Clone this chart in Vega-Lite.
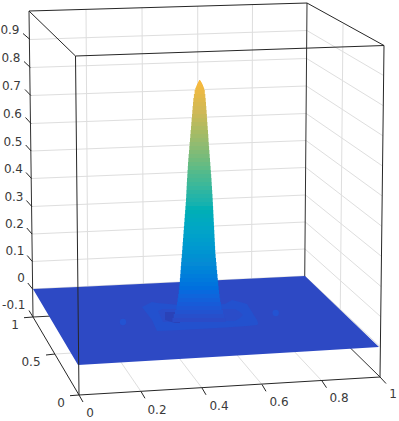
{"$schema":"https://vega.github.io/schema/vega-lite/v6.json","width":399,"height":421,"padding":0,"autosize":{"type":"fit","contains":"padding"},"background":"white","config":{"view":{"stroke":null}},
"datasets":{
"grid":[
{"id":"bz9","px":30,"py":39.5},{"id":"bz9","px":306.9,"py":30.5},
{"id":"bz8","px":30.4,"py":67.5},{"id":"bz8","px":306.7,"py":58.5},
{"id":"bz7","px":30.8,"py":95.5},{"id":"bz7","px":306.4,"py":86},
{"id":"bz6","px":31,"py":123.5},{"id":"bz6","px":306.2,"py":113.5},
{"id":"bz5","px":31.2,"py":151},{"id":"bz5","px":306,"py":140.5},
{"id":"bz4","px":31.5,"py":178.5},{"id":"bz4","px":305.8,"py":167.5},
{"id":"bz3","px":31.8,"py":206.5},{"id":"bz3","px":305.5,"py":195},
{"id":"bz2","px":32,"py":234},{"id":"bz2","px":305.3,"py":222},
{"id":"bz1","px":32.3,"py":261.5},{"id":"bz1","px":305,"py":249},
{"id":"bz0","px":32.6,"py":289},{"id":"bz0","px":304.8,"py":276},
{"id":"rz9","px":306.9,"py":30.5},{"id":"rz9","px":383.6,"py":75.5},
{"id":"rz8","px":306.7,"py":58.5},{"id":"rz8","px":383.3,"py":105.7},
{"id":"rz7","px":306.4,"py":86},{"id":"rz7","px":382.9,"py":135.8},
{"id":"rz6","px":306.2,"py":113.5},{"id":"rz6","px":382.5,"py":166},
{"id":"rz5","px":306,"py":140.5},{"id":"rz5","px":382.2,"py":196},
{"id":"rz4","px":305.8,"py":167.5},{"id":"rz4","px":381.8,"py":226.3},
{"id":"rz3","px":305.5,"py":195},{"id":"rz3","px":381.5,"py":256.4},
{"id":"rz2","px":305.3,"py":222},{"id":"rz2","px":381.1,"py":286.6},
{"id":"rz1","px":305,"py":249},{"id":"rz1","px":380.7,"py":316.7},
{"id":"rz0","px":304.8,"py":276},{"id":"rz0","px":380.4,"py":346.9},
{"id":"bx2","px":86,"py":9},{"id":"bx2","px":88,"py":314},
{"id":"bx4","px":142,"py":7.5},{"id":"bx4","px":143.5,"py":311.5},
{"id":"bx6","px":197.7,"py":6},{"id":"bx6","px":198,"py":309},
{"id":"bx8","px":252.5,"py":4.5},{"id":"bx8","px":251.5,"py":306},
{"id":"ry5","px":343,"py":24},{"id":"ry5","px":340,"py":338},
{"id":"fx2","px":88,"py":314},{"id":"fx2","px":141,"py":391.5},
{"id":"fx4","px":143.5,"py":311.5},{"id":"fx4","px":202,"py":388},
{"id":"fx6","px":198,"py":309},{"id":"fx6","px":262,"py":384.5},
{"id":"fx8","px":251.5,"py":306},{"id":"fx8","px":322,"py":381},
{"id":"fy5","px":55,"py":354},{"id":"fy5","px":340,"py":338}
],
"backbox":[
{"id":"bl","px":29,"py":11},{"id":"bl","px":33,"py":317},
{"id":"bb","px":33,"py":317},{"id":"bb","px":304.5,"py":303},
{"id":"br","px":307,"py":3},{"id":"br","px":304.5,"py":303},
{"id":"fl","px":304.5,"py":303},{"id":"fl","px":380,"py":377}
],
"frontbox":[
{"id":"t1","px":29,"py":11},{"id":"t1","px":307,"py":3},
{"id":"t2","px":75.5,"py":56},{"id":"t2","px":384,"py":45.5},
{"id":"t3","px":29,"py":11},{"id":"t3","px":75.5,"py":56},
{"id":"t4","px":307,"py":3},{"id":"t4","px":384,"py":45.5},
{"id":"v1","px":75.5,"py":56},{"id":"v1","px":79,"py":395},
{"id":"v2","px":384,"py":45.5},{"id":"v2","px":380,"py":377},
{"id":"b1","px":33,"py":317},{"id":"b1","px":79,"py":395},
{"id":"b2","px":79,"py":395},{"id":"b2","px":380,"py":377},
{"id":"tx0","px":79,"py":395},{"id":"tx0","px":83,"py":402},
{"id":"tx2","px":141,"py":391.5},{"id":"tx2","px":145,"py":398.3},
{"id":"tx4","px":202,"py":388},{"id":"tx4","px":206,"py":394.8},
{"id":"tx6","px":262,"py":384.5},{"id":"tx6","px":266,"py":391.3},
{"id":"tx8","px":322,"py":381},{"id":"tx8","px":326.5,"py":387.7},
{"id":"tx10","px":380,"py":377},{"id":"tx10","px":386,"py":383.5},
{"id":"ty0","px":70,"py":395.7},{"id":"ty0","px":79,"py":395},
{"id":"ty5","px":46,"py":355},{"id":"ty5","px":55,"py":354},
{"id":"ty10","px":24,"py":317.7},{"id":"ty10","px":33,"py":317},
{"id":"tz9","px":23,"py":33.5},{"id":"tz9","px":30,"py":39.5},
{"id":"tz8","px":24,"py":61.5},{"id":"tz8","px":30.4,"py":67.5},
{"id":"tz7","px":25,"py":89.5},{"id":"tz7","px":30.8,"py":95.5},
{"id":"tz6","px":25.5,"py":117.5},{"id":"tz6","px":31,"py":123.5},
{"id":"tz5","px":25.7,"py":145},{"id":"tz5","px":31.2,"py":151},
{"id":"tz4","px":26,"py":172.5},{"id":"tz4","px":31.5,"py":178.5},
{"id":"tz3","px":26.4,"py":200.5},{"id":"tz3","px":31.8,"py":206.5},
{"id":"tz2","px":26.8,"py":228},{"id":"tz2","px":32,"py":234},
{"id":"tz1","px":27.2,"py":255.5},{"id":"tz1","px":32.3,"py":261.5},
{"id":"tz0","px":27.8,"py":283},{"id":"tz0","px":32.6,"py":289},
{"id":"tzm","px":29,"py":310.5},{"id":"tzm","px":33,"py":317}
],
"sheet":[{"px":33,"top":289,"bot":289},{"px":78,"top":286.9,"bot":365},{"px":305,"top":276,"bot":351.4},{"px":379,"top":347,"bot":347}],
"ring":[{"px":142,"top":307,"bot":307},{"px":152,"top":302,"bot":320},{"px":157,"top":303,"bot":331},{"px":180,"top":305,"bot":330},{"px":225,"top":304,"bot":327.5},{"px":232,"top":300,"bot":327},{"px":240,"top":302,"bot":326.5},{"px":247,"top":304,"bot":326},{"px":257,"top":320,"bot":325},{"px":258,"top":323,"bot":324}],
"ringin":[{"px":158,"top":311,"bot":311},{"px":163,"top":309,"bot":322},{"px":235,"top":309,"bot":321},{"px":240,"top":312,"bot":318},{"px":243,"top":315,"bot":315}],
"dark":[{"px":165,"top":312,"bot":320},{"px":175,"top":312,"bot":323},{"px":180,"top":312,"bot":323}],
"spots":[{"px":123,"py":322},{"px":275.7,"py":313}],
"peak":[
{"y0":80,"y1":81,"l":199,"r":200.3,"z":0.811},{"y0":81,"y1":82,"l":198.5,"r":201,"z":0.807},{"y0":82,"y1":83,"l":198,"r":201.6,"z":0.804},{"y0":83,"y1":84,"l":197.5,"r":202.1,"z":0.801},{"y0":84,"y1":85,"l":197,"r":202.6,"z":0.797},{"y0":85,"y1":86,"l":196.6,"r":203,"z":0.794},{"y0":86,"y1":87,"l":196.2,"r":203.4,"z":0.791},{"y0":87,"y1":88,"l":195.8,"r":203.8,"z":0.787},{"y0":88,"y1":90,"l":195.3,"r":204.2,"z":0.782},
{"y0":90,"y1":94,"l":194.6,"r":204.8,"z":0.772},{"y0":94,"y1":98,"l":193.9,"r":205.3,"z":0.758},{"y0":98,"y1":102,"l":193.3,"r":205.7,"z":0.745},{"y0":102,"y1":106,"l":193,"r":206,"z":0.732},{"y0":106,"y1":110,"l":192.6,"r":206.3,"z":0.718},{"y0":110,"y1":114,"l":192.3,"r":206.6,"z":0.705},{"y0":114,"y1":118,"l":192,"r":206.9,"z":0.691},{"y0":118,"y1":122,"l":191.6,"r":207.1,"z":0.678},{"y0":122,"y1":126,"l":191.3,"r":207.4,"z":0.664},{"y0":126,"y1":130,"l":191,"r":207.7,"z":0.651},{"y0":130,"y1":134,"l":190.6,"r":208,"z":0.638},{"y0":134,"y1":138,"l":190.3,"r":208.3,"z":0.624},{"y0":138,"y1":142,"l":190,"r":208.5,"z":0.611},{"y0":142,"y1":146,"l":189.6,"r":208.8,"z":0.597},{"y0":146,"y1":150,"l":189.3,"r":209.1,"z":0.584},{"y0":150,"y1":154,"l":189,"r":209.4,"z":0.57},{"y0":154,"y1":158,"l":188.6,"r":209.7,"z":0.557},{"y0":158,"y1":162,"l":188.3,"r":210,"z":0.544},{"y0":162,"y1":166,"l":188,"r":210.3,"z":0.53},{"y0":166,"y1":170,"l":187.8,"r":210.6,"z":0.517},{"y0":170,"y1":174,"l":187.5,"r":210.9,"z":0.503},{"y0":174,"y1":178,"l":187.3,"r":211.2,"z":0.49},{"y0":178,"y1":182,"l":187,"r":211.5,"z":0.477},{"y0":182,"y1":186,"l":186.8,"r":211.7,"z":0.463},{"y0":186,"y1":190,"l":186.6,"r":212,"z":0.45},{"y0":190,"y1":194,"l":186.4,"r":212.2,"z":0.436},{"y0":194,"y1":198,"l":186.2,"r":212.5,"z":0.423},{"y0":198,"y1":202,"l":186,"r":212.7,"z":0.409},{"y0":202,"y1":206,"l":185.7,"r":212.9,"z":0.396},{"y0":206,"y1":210,"l":185.4,"r":213.1,"z":0.383},{"y0":210,"y1":214,"l":185.1,"r":213.3,"z":0.369},{"y0":214,"y1":218,"l":184.8,"r":213.5,"z":0.356},{"y0":218,"y1":222,"l":184.5,"r":213.7,"z":0.342},{"y0":222,"y1":226,"l":184.2,"r":213.9,"z":0.329},{"y0":226,"y1":230,"l":183.9,"r":214.1,"z":0.315},{"y0":230,"y1":234,"l":183.6,"r":214.3,"z":0.302},{"y0":234,"y1":238,"l":183.3,"r":214.5,"z":0.289},{"y0":238,"y1":242,"l":183,"r":214.7,"z":0.275},{"y0":242,"y1":246,"l":182.7,"r":214.9,"z":0.262},{"y0":246,"y1":250,"l":182.4,"r":215.1,"z":0.248},{"y0":250,"y1":254,"l":182.1,"r":215.3,"z":0.235},{"y0":254,"y1":258,"l":181.8,"r":215.6,"z":0.221},{"y0":258,"y1":262,"l":181.4,"r":216,"z":0.208},{"y0":262,"y1":266,"l":181.1,"r":216.4,"z":0.195},{"y0":266,"y1":270,"l":180.8,"r":216.7,"z":0.181},{"y0":270,"y1":274,"l":180.5,"r":217.1,"z":0.168},{"y0":274,"y1":278,"l":180.2,"r":217.5,"z":0.154},{"y0":278,"y1":282,"l":179.9,"r":217.8,"z":0.141},{"y0":282,"y1":286,"l":179.6,"r":218.2,"z":0.128},{"y0":286,"y1":290,"l":179.3,"r":218.6,"z":0.114},{"y0":290,"y1":294,"l":178.8,"r":219,"z":0.101},{"y0":294,"y1":298,"l":178.2,"r":219.6,"z":0.087},{"y0":298,"y1":302,"l":177.6,"r":220.2,"z":0.074},{"y0":302,"y1":306,"l":177,"r":220.9,"z":0.06},{"y0":306,"y1":310,"l":176.3,"r":221.6,"z":0.047},{"y0":310,"y1":314,"l":175,"r":223,"z":0.034},{"y0":314,"y1":318,"l":173.7,"r":224.3,"z":0.02},{"y0":318,"y1":322,"l":172.4,"r":225.6,"z":0.007}
],
"zlabels":[{"t":"0.9","px":19.5,"py":30},{"t":"0.8","px":20.5,"py":58},{"t":"0.7","px":21,"py":86},{"t":"0.6","px":22,"py":114},{"t":"0.5","px":22.5,"py":142},{"t":"0.4","px":23,"py":169},{"t":"0.3","px":23.5,"py":197},{"t":"0.2","px":24,"py":224},{"t":"0.1","px":24.5,"py":251},{"t":"0","px":25,"py":278},{"t":"-0.1","px":25.5,"py":305}],
"otherlabels":[{"t":"1","px":15,"py":325},{"t":"0.5","px":31,"py":362},{"t":"0","px":61,"py":403},{"t":"0","px":90,"py":413},{"t":"0.2","px":157,"py":410},{"t":"0.4","px":219,"py":406},{"t":"0.6","px":279,"py":402},{"t":"0.8","px":339,"py":398},{"t":"1","px":393,"py":394}]
},
"layer":[
{"data":{"name":"grid"},"mark":{"type":"line","color":"#dedede","strokeWidth":1},"encoding":{"x":{"field":"px","type":"quantitative","scale":{"domain":[0,399],"nice":false,"zero":false},"axis":null},"y":{"field":"py","type":"quantitative","scale":{"domain":[421,0],"nice":false,"zero":false},"axis":null},"detail":{"field":"id"}}},
{"data":{"name":"backbox"},"mark":{"type":"line","color":"#303030","strokeWidth":1},"encoding":{"x":{"field":"px","type":"quantitative"},"y":{"field":"py","type":"quantitative"},"detail":{"field":"id"}}},
{"data":{"name":"sheet"},"mark":{"type":"area","color":"#2D49C4","opacity":1},"encoding":{"x":{"field":"px","type":"quantitative"},"y":{"field":"top","type":"quantitative"},"y2":{"field":"bot"}}},
{"data":{"name":"ring"},"mark":{"type":"area","color":"#2351CE"},"encoding":{"x":{"field":"px","type":"quantitative"},"y":{"field":"top","type":"quantitative"},"y2":{"field":"bot"}}},
{"data":{"name":"ringin"},"mark":{"type":"area","color":"#2A4CC8"},"encoding":{"x":{"field":"px","type":"quantitative"},"y":{"field":"top","type":"quantitative"},"y2":{"field":"bot"}}},
{"data":{"name":"dark"},"mark":{"type":"area","color":"#2A42B8"},"encoding":{"x":{"field":"px","type":"quantitative"},"y":{"field":"top","type":"quantitative"},"y2":{"field":"bot"}}},
{"data":{"name":"spots"},"mark":{"type":"point","filled":true,"color":"#2353D2","opacity":1,"size":40,"shape":"circle"},"encoding":{"x":{"field":"px","type":"quantitative"},"y":{"field":"py","type":"quantitative"}}},
{"data":{"name":"peak"},"mark":{"type":"rect"},"encoding":{"x":{"field":"l","type":"quantitative"},"x2":{"field":"r"},"y":{"field":"y0","type":"quantitative"},"y2":{"field":"y1"},"color":{"field":"z","type":"quantitative","legend":null,"scale":{"domain":[0,0.05,0.1,0.2,0.3,0.4,0.5,0.6,0.7,0.8],"range":["#2D49C4","#1A58D6","#0B69DE","#0E8CD4","#05A3C8","#19B2AE","#52BA8C","#93BB70","#CDB858","#F6B93E"]}}}},
{"data":{"name":"frontbox"},"mark":{"type":"line","color":"#262626","strokeWidth":1},"encoding":{"x":{"field":"px","type":"quantitative"},"y":{"field":"py","type":"quantitative"},"detail":{"field":"id"}}},
{"data":{"name":"zlabels"},"mark":{"type":"text","align":"right","baseline":"middle","font":"DejaVu Sans","fontSize":12,"color":"#3a3a3a"},"encoding":{"x":{"field":"px","type":"quantitative"},"y":{"field":"py","type":"quantitative"},"text":{"field":"t"}}},
{"data":{"name":"otherlabels"},"mark":{"type":"text","align":"center","baseline":"middle","font":"DejaVu Sans","fontSize":12,"color":"#3a3a3a"},"encoding":{"x":{"field":"px","type":"quantitative"},"y":{"field":"py","type":"quantitative"},"text":{"field":"t"}}}
]}
